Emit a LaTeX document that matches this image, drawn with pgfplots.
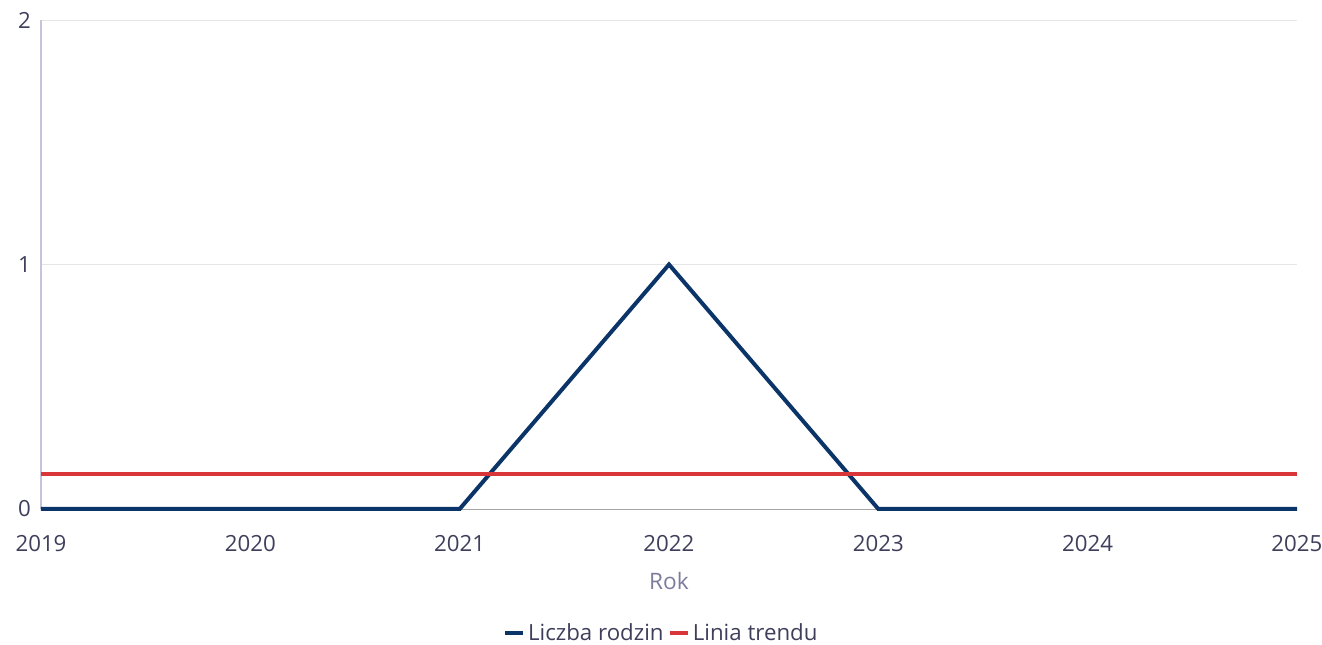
\documentclass[border=0pt]{standalone}
\usepackage{pgfplots}
\pgfplotsset{compat=1.18}
\usepackage{fontspec}
\setmainfont{Open Sans}
\definecolor{navy}{HTML}{0B3468}
\definecolor{trendred}{HTML}{D9363A}
\definecolor{ticktext}{HTML}{3F3F5C}
\definecolor{labeltext}{HTML}{7B7B9E}
\definecolor{gridgray}{HTML}{E6E6E6}
\definecolor{axisline}{HTML}{C4C4DA}

\begin{document}
\begin{tikzpicture}
  \begin{axis}[
    scale only axis,
    width=942pt, height=366.75pt,
    xmin=2019, xmax=2025, ymin=0, ymax=2,
    axis x line*=bottom, axis y line*=left,
    x axis line style={draw=gray!70},
    y axis line style={draw=axisline, line width=0.8pt},
    xtick={2019,2020,...,2025}, ytick={0,1,2},
    major tick length=0pt,
    ymajorgrids, grid style={draw=gridgray, line width=0.6pt},
    /pgf/number format/1000 sep={},
    /pgf/number format/assume math mode=true,
    tick label style={font=\fontsize{16.7}{19}\selectfont, text=ticktext},
    xticklabel style={yshift=-16pt},
    yticklabel style={xshift=-4pt},
    xlabel={Rok},
    xlabel style={font=\fontsize{17}{19}\selectfont, text=labeltext, yshift=-9pt},
    clip=false,
    legend columns=2,
    legend style={at={(axis description cs:0.494,-0.253)}, anchor=center,
      draw=none, font=\fontsize{16.7}{19}\selectfont, text=ticktext,
      /tikz/every even column/.append style={column sep=1pt}},
    legend image code/.code={\draw[#1, line width=3pt] (0pt,0pt) -- (14pt,0pt);},
  ]
    \addplot[navy, line width=3pt] coordinates {
      (2019,0) (2020,0) (2021,0) (2022,1) (2023,0) (2024,0) (2025,0)
    };
    \addlegendentry{Liczba rodzin}
    \addplot[trendred, line width=3pt] coordinates {
      (2019,0.142857) (2020,0.142857) (2021,0.142857) (2022,0.142857)
      (2023,0.142857) (2024,0.142857) (2025,0.142857)
    };
    \addlegendentry{Linia trendu}
  \end{axis}
  \pgfresetboundingbox
  \useasboundingbox (-30.75pt,-102pt) rectangle (960.75pt,381.75pt);
\end{tikzpicture}
\end{document}
